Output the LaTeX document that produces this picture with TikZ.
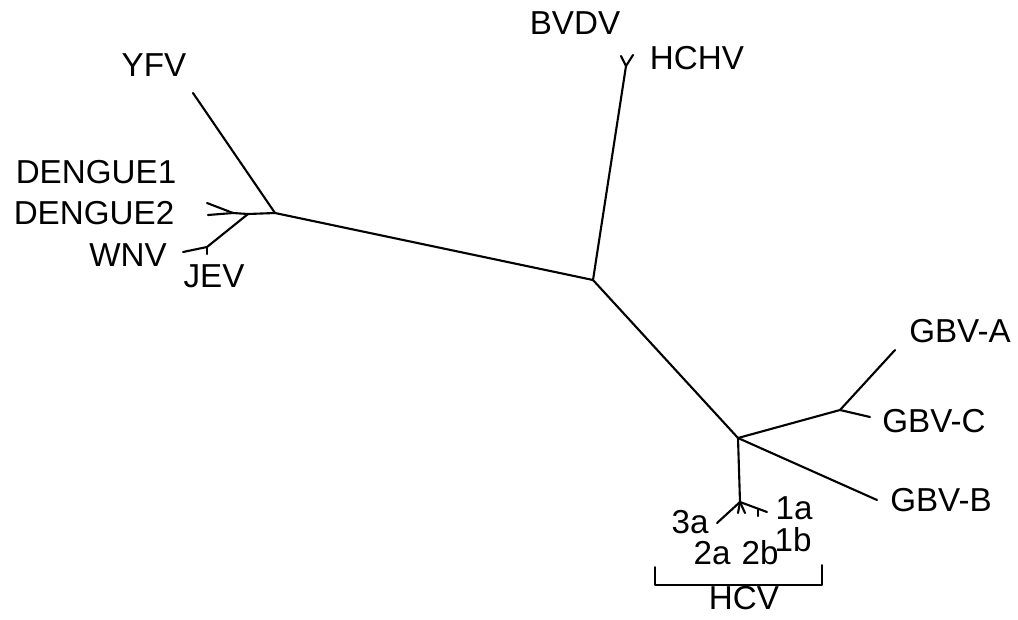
\documentclass[tikz,border=0pt]{standalone}
\usepackage{fontspec}
\setmainfont{Liberation Sans}
\usetikzlibrary{positioning}
\tikzset{
  every picture/.style={line width=1.5pt},
  branch/.style={draw=black, line cap=round, line join=round},
  taxon/.style={font=\fontsize{23.6}{27}\selectfont, inner sep=0pt},
}

\begin{document}
\begin{tikzpicture}[x=0.025cm, y=-0.025cm]
  \useasboundingbox (0,0) rectangle (1018,619);
  % inner nodes of the tree
  \coordinate (root) at (593,280);
  \coordinate (flavi) at (275,213);
  \coordinate (den) at (248,214);
  \coordinate (den12) at (233,213);
  \coordinate (wnvjev) at (207,247);
  \coordinate (pesti) at (626,66);
  \coordinate (hep) at (738,438);
  \coordinate (gbvac) at (840,410);
  \coordinate (hcv) at (740,502);
  \coordinate (hcv1) at (758,510);
  % branch tips
  \coordinate (tYFV) at (193,93);
  \coordinate (tDEN1) at (207,203);
  \coordinate (tDEN2) at (208,215);
  \coordinate (tWNV) at (183,252);
  \coordinate (tJEV) at (207,254);
  \coordinate (tBVDV) at (621,56);
  \coordinate (tHCHV) at (633,55);
  \coordinate (tGBVA) at (895,350);
  \coordinate (tGBVC) at (870,417);
  \coordinate (tGBVB) at (877,500);
  \coordinate (t3a) at (717,523);
  \coordinate (t2a) at (738,513);
  \coordinate (t2b) at (745,513);
  \coordinate (t1a) at (767,512);
  \coordinate (t1b) at (758,516);
  % branches
  \draw[branch] (root) -- (flavi) -- (den) -- (den12) -- (tDEN2);
  \draw[branch] (flavi) -- (tYFV);
  \draw[branch] (den12) -- (tDEN1);
  \draw[branch] (den) -- (wnvjev) -- (tWNV);
  \draw[branch] (wnvjev) -- (tJEV);
  \draw[branch] (root) -- (pesti) -- (tBVDV);
  \draw[branch] (pesti) -- (tHCHV);
  \draw[branch] (root) -- (hep) -- (gbvac) -- (tGBVA);
  \draw[branch] (gbvac) -- (tGBVC);
  \draw[branch] (hep) -- (tGBVB);
  \draw[branch] (hep) -- (hcv) -- (t3a);
  \draw[branch] (hcv) -- (t2a);
  \draw[branch] (hcv) -- (t2b);
  \draw[branch] (hcv) -- (t1a);
  \draw[branch] (hcv1) -- (t1b);
  % labels
  \foreach \n/\x/\y/\t in {YFV/154/65/YFV, DEN1/96/172/DENGUE1, DEN2/94/213/DENGUE2,
                           WNV/128/255/WNV, JEV/214/276/JEV, BVDV/575/23/BVDV, HCHV/697/58/HCHV,
                           GBVA/960/331/GBV-A, GBVC/934/421/GBV-C, GBVB/941/500/GBV-B,
                           3a/690/522/3a, 1a/794/508/1a, 1b/793/540/1b, 2a/712/553/2a, 2b/760/553/2b} {
    \node[taxon] (l\n) at (\x,\y) {\t};
  }
  % HCV bracket
  \coordinate (brl) at (655,567);
  \coordinate (brr) at (822,565);
  \draw[branch, line width=1.2pt] (brl) -- (brl |- 0,585) -- (brr |- 0,585) -- (brr);
  \node[taxon] (lHCV) at (744,598) {HCV};
\end{tikzpicture}
\end{document}
